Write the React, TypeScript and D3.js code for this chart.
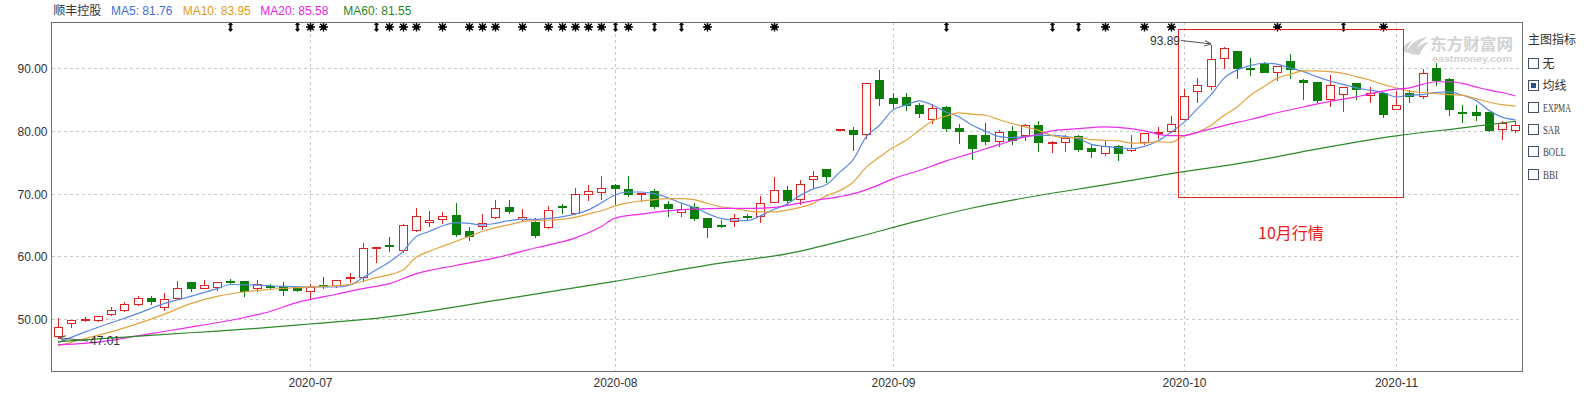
import React from 'react';
import * as d3 from 'd3';

const width = 1584;
const height = 393;
const plot = { left: 51.5, right: 1522, top: 22, bottom: 371 };
const red = '#dd2222';
const green = '#0a800a';
const font = '"Liberation Sans", Arial, "Noto Sans CJK SC", sans-serif';
const cjk = '"Noto Sans CJK SC", "Liberation Sans", sans-serif';

// daily candles, 2020-06-02 .. 2020-11-13
const open = [47.3, 49.3, 50.0, 49.9, 50.85, 51.49, 52.45, 53.4, 51.9, 53.4, 55.96, 54.95, 55.1, 56.1, 56.06, 55.0, 55.25, 55.27, 55.1, 54.47,
  55.4, 55.5, 56.6, 56.7, 61.4, 61.8, 61.06, 64.2, 65.47, 66.0, 66.58, 64.1, 64.84, 66.2, 67.8, 65.9, 65.53, 64.74, 68.05, 66.84,
  69.9, 70.26, 71.37, 70.8, 69.95, 70.37, 68.42, 67.0, 67.9, 66.05, 65.05, 65.63, 66.5, 66.42, 68.74, 70.5, 69.14, 72.4, 73.85, 80.2,
  80.1, 79.57, 88.13, 85.19, 85.35, 84.12, 81.98, 83.74, 80.53, 79.3, 79.3, 78.4, 80.0, 79.41, 81.02, 78.2, 78.18, 79.14, 77.27, 76.47,
  77.6, 76.9, 78.24, 79.8, 79.95, 81.94, 86.4, 87.2, 91.61, 92.69, 90.1, 90.8, 89.35, 91.18, 88.12, 87.85, 85.05, 85.97, 87.58, 85.7,
  86.13, 83.55, 86.08, 85.59, 90.0, 88.28, 83.1, 83.01, 83.01, 80.32, 80.22];
const high = [50.3, 50.05, 50.4, 50.6, 52.0, 52.8, 53.9, 53.9, 54.3, 56.17, 56.0, 56.3, 56.0, 56.5, 56.1, 56.4, 55.7, 56.06, 55.5, 55.7,
  56.8, 56.3, 57.5, 62.3, 61.5, 63.2, 65.3, 67.9, 67.37, 67.26, 68.68, 64.84, 66.84, 69.2, 69.2, 67.74, 66.2, 68.26, 68.5, 71.05,
  71.47, 73.0, 71.68, 72.9, 70.1, 70.9, 68.95, 68.5, 68.68, 66.05, 65.9, 66.95, 66.84, 69.74, 72.74, 71.3, 72.35, 73.8, 73.85, 80.25,
  80.86, 87.6, 89.84, 86.15, 86.15, 84.65, 84.39, 84.12, 81.28, 79.3, 81.44, 80.37, 80.9, 81.34, 81.71, 78.5, 79.47, 79.47, 77.97, 78.5,
  77.97, 79.47, 79.84, 80.75, 82.47, 86.88, 88.55, 93.89, 93.6, 92.96, 91.72, 91.18, 90.54, 92.42, 88.39, 87.85, 89.03, 87.1, 87.6, 87.2,
  86.24, 86.5, 86.77, 90.0, 90.97, 88.66, 84.35, 84.35, 83.01, 81.67, 81.67];
const low = [47.01, 48.7, 49.6, 49.7, 50.7, 51.3, 52.2, 52.45, 51.5, 53.4, 54.4, 54.9, 54.7, 55.7, 53.7, 54.5, 54.9, 53.9, 54.4, 53.2,
  54.9, 55.1, 55.9, 56.06, 59.1, 60.9, 60.7, 64.0, 64.84, 65.37, 63.3, 62.6, 64.3, 66.05, 66.9, 65.68, 63.05, 64.47, 66.84, 66.74,
  69.05, 69.2, 68.42, 69.6, 68.84, 67.63, 66.42, 66.42, 65.8, 63.05, 64.63, 64.84, 65.9, 65.53, 68.7, 68.4, 68.34, 71.12, 71.8, 80.2,
  77.0, 78.93, 84.1, 83.58, 83.42, 82.25, 81.28, 79.95, 78.07, 75.56, 77.97, 77.54, 77.97, 78.61, 76.79, 76.63, 76.79, 76.79, 75.83, 76.1,
  75.3, 76.79, 77.97, 78.93, 79.78, 81.94, 84.62, 86.77, 90.0, 88.5, 88.92, 89.35, 88.12, 88.5, 85.05, 84.62, 83.98, 83.12, 85.16, 84.6,
  82.2, 83.55, 84.62, 85.27, 87.31, 82.47, 81.5, 81.67, 80.05, 78.71, 79.78];
const close = [48.7, 49.8, 50.05, 50.43, 51.38, 52.45, 53.4, 52.9, 53.19, 55.0, 54.95, 55.48, 55.96, 55.95, 54.47, 55.64, 55.15, 54.68, 54.7, 55.1,
  55.3, 56.17, 56.7, 61.38, 61.5, 61.6, 64.95, 66.5, 65.79, 66.37, 63.58, 63.26, 65.26, 67.63, 67.16, 66.2, 63.42, 67.32, 67.95, 70.0,
  70.37, 70.95, 70.9, 70.0, 70.05, 68.05, 67.63, 67.47, 66.05, 64.63, 64.95, 66.16, 66.4, 68.58, 70.58, 69.05, 71.55, 72.83, 72.78, 80.25,
  79.47, 87.59, 85.19, 84.49, 84.12, 82.89, 83.69, 80.48, 80.0, 77.27, 78.4, 79.84, 78.61, 81.02, 78.24, 78.3, 78.93, 77.11, 76.79, 77.65,
  76.47, 77.27, 79.68, 79.9, 81.13, 85.59, 87.31, 91.5, 93.23, 90.0, 89.9, 89.46, 90.43, 89.89, 87.74, 84.89, 87.31, 87.04, 86.77, 86.13,
  82.74, 84.19, 85.59, 89.19, 88.12, 83.55, 83.0, 82.58, 80.22, 81.24, 80.97];

// moving averages: [candle index, value]
const ma5: [number, number][] = [[0, 46.2], [2, 47.9], [4, 49.4], [6, 50.85], [8, 52.45], [10, 53.6], [12, 54.84], [13, 55.5], [15, 55.4], [17, 55.2],
  [19, 55.1], [21, 55.1], [22, 55.4], [23, 56.6], [24, 57.8], [25, 59.1], [26, 60.7], [27, 63.1], [28, 63.95], [29, 64.84], [30, 65.37],
  [31, 65.26], [32, 65.0], [33, 65.26], [34, 65.68], [35, 65.9], [36, 65.9], [37, 66.05], [38, 66.3], [39, 66.74], [40, 67.37], [41, 68.53],
  [42, 69.74], [43, 70.26], [44, 70.26], [45, 70.0], [46, 69.37], [47, 68.53], [48, 67.79], [49, 66.84], [50, 66.05], [51, 65.79], [52, 65.68],
  [53, 66.42], [54, 67.47], [55, 68.3], [56, 69.68], [57, 70.75], [58, 71.44], [59, 73.42], [60, 75.4], [61, 79.04], [62, 80.9], [63, 83.32],
  [64, 84.12], [65, 84.81], [66, 84.12], [67, 83.05], [68, 82.25], [69, 80.9], [70, 79.95], [71, 79.14], [72, 78.93], [73, 79.14], [74, 79.3],
  [75, 79.3], [76, 79.14], [77, 78.77], [78, 77.86], [79, 77.54], [80, 77.33], [81, 77.17], [82, 77.54], [83, 78.4], [84, 79.78], [85, 81.4],
  [86, 83.55], [87, 85.7], [88, 88.39], [89, 89.73], [90, 90.43], [91, 90.8], [92, 90.65], [93, 90.0], [94, 89.46], [95, 88.66], [96, 87.96],
  [97, 87.42], [98, 86.88], [99, 86.5], [100, 86.13], [101, 85.43], [102, 85.7], [103, 85.8], [104, 86.13], [105, 86.24], [106, 85.7],
  [107, 84.9], [108, 83.28], [109, 82.2], [110, 81.76]];
const ma10: [number, number][] = [[0, 45.7], [2, 46.86], [4, 47.93], [6, 49.26], [8, 50.74], [10, 52.45], [12, 53.6], [14, 54.3], [16, 54.73],
  [18, 55.0], [20, 55.2], [22, 55.53], [24, 56.6], [26, 57.77], [27, 59.8], [28, 60.79], [29, 61.58], [30, 62.37], [31, 63.16], [32, 63.95],
  [33, 64.58], [34, 65.0], [35, 65.53], [36, 65.68], [37, 65.79], [38, 65.9], [39, 66.2], [40, 66.74], [41, 67.26], [42, 68.0], [43, 68.53],
  [44, 68.84], [45, 69.05], [46, 69.2], [47, 69.2], [48, 69.05], [49, 68.42], [50, 67.9], [51, 67.63], [52, 67.26], [53, 67.1], [54, 67.1],
  [55, 67.37], [56, 67.8], [57, 68.45], [58, 69.68], [59, 70.48], [60, 71.82], [61, 74.22], [62, 75.83], [63, 77.33], [64, 78.5], [65, 80.1],
  [66, 81.6], [67, 82.35], [68, 82.89], [69, 82.67], [70, 82.5], [71, 81.82], [72, 81.18], [73, 80.64], [74, 80.1], [75, 79.3], [76, 78.93],
  [77, 78.93], [78, 78.6], [79, 78.5], [80, 78.4], [81, 78.07], [82, 78.07], [83, 78.3], [84, 78.17], [85, 79.25], [86, 79.78], [87, 80.86],
  [88, 82.47], [89, 83.82], [90, 85.7], [91, 87.04], [92, 88.39], [93, 89.03], [94, 89.57], [95, 89.57], [96, 89.46], [97, 89.19], [98, 88.66],
  [99, 88.12], [100, 87.42], [101, 86.88], [102, 86.34], [103, 86.13], [104, 85.97], [105, 85.8], [106, 85.7], [107, 85.16], [108, 84.62],
  [109, 84.19], [110, 83.95]];
const ma20: [number, number][] = [[0, 45.9], [2, 46.1], [4, 46.6], [6, 47.3], [8, 48.0], [10, 48.7], [12, 49.4], [14, 50.2], [16, 51.2],
  [18, 52.6], [19, 53.1], [21, 53.94], [23, 54.84], [25, 55.64], [27, 57.2], [30, 58.53], [33, 59.74], [36, 61.32], [39, 62.9], [41, 64.74],
  [42, 66.05], [44, 66.74], [46, 67.26], [48, 67.53], [50, 67.63], [52, 67.63], [54, 67.79], [55, 68.1], [57, 68.88], [59, 69.52], [60, 69.95],
  [62, 71.44], [63, 72.35], [65, 73.69], [67, 75.19], [69, 76.47], [71, 77.81], [73, 79.04], [74, 79.47], [75, 80.0], [77, 80.37], [79, 80.64],
  [81, 80.37], [82, 80.0], [83, 79.5], [84, 79.25], [85, 79.25], [86, 79.78], [88, 80.86], [90, 81.83], [92, 82.9], [94, 83.82], [96, 84.73],
  [98, 85.43], [100, 86.34], [101, 86.67], [102, 86.88], [103, 87.42], [104, 87.85], [105, 87.85], [106, 87.58], [107, 87.04], [108, 86.5],
  [109, 86.13], [110, 85.58]];
const ma60: [number, number][] = [[0, 46.4], [5, 47.1], [10, 47.8], [15, 48.5], [19, 49.2], [24, 50.1], [34, 53.3], [42, 56.0], [50, 58.9],
  [55, 60.4], [60, 62.9], [65, 65.7], [69, 67.7], [74, 69.7], [79, 71.4], [84, 73.2], [90, 75.1], [95, 77.1], [101, 79.2], [106, 80.5], [110, 81.55]];

const maNames = ['MA5', 'MA10', 'MA20', 'MA60'];
const maLast = ['81.76', '83.95', '85.58', '81.55'];
const maColors = ['#5b8ae3', '#e3a43d', '#ee2aee', '#2a8a2a'];
const maTitleColors = ['#3f6fd8', '#e39b22', '#e61fe6', '#1f8a1f'];

const yTicks = [50, 60, 70, 80, 90];
const monthIdx = [19, 42, 63, 85, 101];
const monthLabels = ['2020-07', '2020-08', '2020-09', '2020-10', '2020-11'];

const starMarks = [19, 20, 25, 26, 27, 29, 31, 32, 33, 35, 37, 38, 39, 40, 41, 43, 49, 54, 79, 82, 84, 92, 100];
const arrowMarks = [13, 18, 24, 42, 45, 47, 67, 75, 77, 97];

const indicators = ['无', '均线', 'EXPMA', 'SAR', 'BOLL', 'BBI'];
const indicatorWidths = [0, 0, 28, 17, 23, 15];

// October box
const boxFrom = 85;
const boxTo = 101;
const boxHigh = 96.3;
const boxLow = 69.4;

const x = d3.scaleBand<number>().domain(d3.range(close.length)).range([plot.left, plot.right]).padding(0);
const y = d3.scaleLinear().domain([41.7, 97.38]).range([plot.bottom, plot.top]);
const cx = (i: number) => Math.round(x(i)! + x.bandwidth() / 2) + 0.5;
const py = (v: number) => Math.round(y(v)) + 0.5;

const lineGen = d3.line<[number, number]>()
  .x(d => x(d[0])! + x.bandwidth() / 2)
  .y(d => y(d[1]))
  .curve(d3.curveMonotoneX);

function Candle({ i }: { i: number }) {
  const o = open[i], c = close[i], h = high[i], l = low[i];
  const up = c >= o;
  const xc = cx(i);
  let top = py(Math.max(o, c));
  let bot = py(Math.min(o, c));
  if (bot - top < 1) bot = top + 1;
  const yh = py(h), yl = py(l);
  if (up) {
    return (
      <g stroke={red} strokeWidth={1} fill="none" shapeRendering="crispEdges">
        {yh < top && <line x1={xc} x2={xc} y1={yh} y2={top} />}
        {yl > bot && <line x1={xc} x2={xc} y1={bot} y2={yl} />}
        <rect x={xc - 4} y={top} width={8} height={bot - top} fill="#fff" />
      </g>
    );
  }
  return (
    <g shapeRendering="crispEdges">
      <line x1={xc} x2={xc} y1={yh} y2={yl} stroke={green} strokeWidth={1} />
      <rect x={xc - 4.5} y={top - 0.5} width={9} height={bot - top + 1} fill={green} />
    </g>
  );
}

export default function App() {
  const series = [ma5, ma10, ma20, ma60];
  const titleX = [111, 182.7, 260.3, 343.3];
  const hiIdx = d3.maxIndex(high);
  const loIdx = d3.minIndex(low);
  return (
    <svg width={width} height={height} style={{ position: 'absolute', left: 0, top: 0, background: '#fff' }}>
      <defs>
        <marker id="ah" viewBox="0 0 10 10" refX="9" refY="5" markerWidth="7" markerHeight="7" orient="auto">
          <path d="M0,1 L10,5 L0,9" fill="none" stroke="#555" strokeWidth={1.5} />
        </marker>
      </defs>

      {/* title */}
      <text x={53.3} y={15} fontSize={12} fontFamily={cjk} fill="#333">顺丰控股</text>
      {maNames.map((n, k) => (
        <text key={n} x={titleX[k]} y={15} fontSize={12} fontFamily={font} fill={maTitleColors[k]}>{`${n}: ${maLast[k]}`}</text>
      ))}

      {/* grid */}
      <g stroke="#c8c8c8" strokeDasharray="3,3" shapeRendering="crispEdges">
        {yTicks.map(t => <line key={t} x1={plot.left} x2={plot.right} y1={py(t)} y2={py(t)} />)}
        {monthIdx.map(i => <line key={i} x1={cx(i)} x2={cx(i)} y1={plot.top} y2={plot.bottom} />)}
      </g>

      {/* watermark */}
      <g fill="#d2d2d2">
        <path d="M1406,52 C1410,44 1418,38 1428,37 C1421,41 1416,47 1414,55 Z" />
        <path d="M1412,54 C1416,47 1422,43 1429,42 C1424,46 1421,50 1420,55 Z" />
        <path d="M1402,50 C1404,45 1408,42 1412,41 C1409,44 1407,48 1406,53 Z" />
        <text x={1430} y={49.5} fontSize={15.5} fontWeight="bold" fontFamily={cjk} textLength={83} lengthAdjust="spacingAndGlyphs">东方财富网</text>
        <text x={1432} y={61.5} fontSize={9.5} fontWeight="bold" fontFamily={font} textLength={80} lengthAdjust="spacingAndGlyphs">eastmoney.com</text>
      </g>

      {/* candles */}
      {close.map((_, i) => <Candle key={i} i={i} />)}

      {/* moving averages */}
      {series.map((s, k) => (
        <path key={k} d={lineGen(s) ?? ''} fill="none" stroke={maColors[k]} strokeWidth={1.2} />
      ))}

      {/* event markers */}
      {starMarks.map(i => (
        <g key={`s${i}`} transform={`translate(${cx(i)},27)`}>
          <path d="M0,-4.5V4.5M-4.5,0H4.5M-3.3,-3.3L3.3,3.3M-3.3,3.3L3.3,-3.3" stroke="#000" strokeWidth={1.4} />
          <circle r={2.6} fill="#000" />
        </g>
      ))}
      {arrowMarks.map(i => (
        <path key={`a${i}`} transform={`translate(${cx(i)},27)`}
          d="M0,-5L2.6,-2H1.1V2H2.6L0,5L-2.6,2H-1.1V-2H-2.6Z" fill="#000" />
      ))}

      {/* October box */}
      <rect x={Math.round(x(boxFrom)!) + 0.5} y={py(boxHigh)} width={Math.round(x(boxTo)! + x.bandwidth()) - Math.round(x(boxFrom)!)}
        height={py(boxLow) - py(boxHigh)} fill="none" stroke="#e8201c" strokeWidth={1} shapeRendering="crispEdges" />
      <text x={1258} y={239} fontSize={16} fontFamily={cjk} fill="#e8201c">10月行情</text>

      {/* high / low labels */}
      <line x1={1181} y1={40.5} x2={cx(hiIdx) - 1} y2={y(high[hiIdx])} stroke="#555" strokeWidth={1} markerEnd="url(#ah)" />
      <text x={1180} y={45} fontSize={12} fontFamily={font} fill="#333" textAnchor="end">{high[hiIdx].toFixed(2)}</text>
      <line x1={88} y1={341} x2={cx(loIdx) + 1} y2={y(low[loIdx])} stroke="#555" strokeWidth={1} markerEnd="url(#ah)" />
      <text x={90} y={345} fontSize={12} fontFamily={font} fill="#333">{low[loIdx].toFixed(2)}</text>

      {/* frame */}
      <path d={`M${plot.left},${plot.top}H${plot.right + 0.5}V${plot.bottom + 0.5}H${plot.left}Z`} fill="none" stroke="#6e6e6e" strokeWidth={1}
        shapeRendering="crispEdges" />

      {/* axes labels */}
      {yTicks.map(t => (
        <text key={t} x={47.5} y={py(t) + 4} fontSize={12} fontFamily={font} fill="#333" textAnchor="end">{t.toFixed(2)}</text>
      ))}
      {monthIdx.map((i, k) => (
        <text key={i} x={cx(i)} y={387} fontSize={12} fontFamily={font} fill="#333" textAnchor="middle">{monthLabels[k]}</text>
      ))}

      {/* indicator panel */}
      <text x={1528} y={44} fontSize={12} fontFamily={cjk} fill="#333">主图指标</text>
      {indicators.map((name, k) => {
        const top = 57.5 + k * 22.2;
        const latin = indicatorWidths[k] > 0;
        return (
          <g key={name}>
            <rect x={1528.5} y={Math.round(top) + 0.5} width={10} height={10} fill="#fff" stroke="#44506a" shapeRendering="crispEdges" />
            {k === 1 && <rect x={1531} y={Math.round(top) + 3} width={5} height={5} fill="#2b4f8f" />}
            {latin ? (
              <text x={1543} y={top + 10} fontSize={12} fontFamily='"Liberation Serif", serif' fill="#444"
                textLength={indicatorWidths[k]} lengthAdjust="spacingAndGlyphs">{name}</text>
            ) : (
              <text x={1542.5} y={top + 10} fontSize={12} fontFamily={cjk} fill="#333">{name}</text>
            )}
          </g>
        );
      })}
    </svg>
  );
}
